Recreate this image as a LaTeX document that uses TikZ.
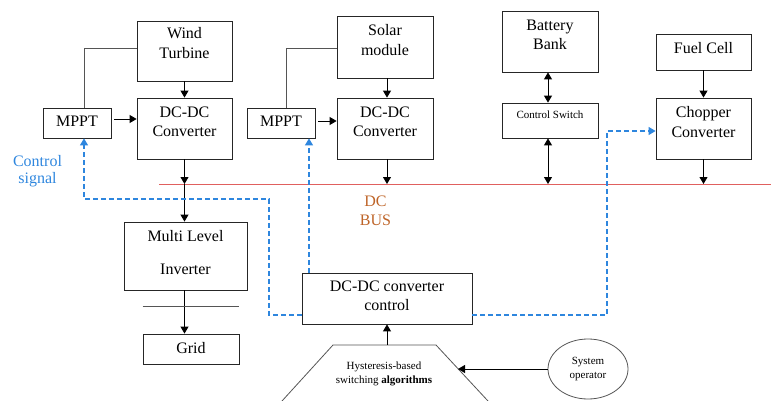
\documentclass[tikz,border=0pt]{standalone}
\usepackage{fontspec}
\setmainfont{Liberation Serif}
\newfontfamily\tnrfont{Liberation Serif}
\usetikzlibrary{arrows.meta,shapes.geometric}
\definecolor{sigblue}{HTML}{2E86DE}
\definecolor{busred}{HTML}{E0605E}
\definecolor{busbrown}{HTML}{BE6428}
\definecolor{lgray}{HTML}{555555}
\begin{document}
\begin{tikzpicture}[x=1pt,y=-1pt,
  box/.style={draw=black!85, line width=0.8pt, rectangle, inner sep=0pt},
  txt/.style={align=center, font=\tnrfont\fontsize{16}{20}\selectfont, inner sep=0pt},
  smalltxt/.style={align=center, font=\tnrfont\fontsize{11}{14}\selectfont, inner sep=0pt},
  arr/.style={-{Triangle[length=7pt,width=8pt]}, line width=0.9pt, draw=black},
  darr/.style={{Triangle[length=7pt,width=8pt]}-{Triangle[length=7pt,width=8pt]}, line width=0.9pt, draw=black},
  gline/.style={draw=lgray, line width=0.8pt},
  sig/.style={draw=sigblue, dash pattern=on 5pt off 3pt, line width=1.1pt},
  sigarr/.style={sig, -{Triangle[length=7pt,width=8pt]}, sigblue}
]
\useasboundingbox (0,0) rectangle (771,401);

% ---- boxes ----
\node[box, minimum width=95pt, minimum height=60pt] (wt) at (184.5,51) {};
\node[txt] (wtT) at (184.5,43) {Wind\\Turbine};
\node[box, minimum width=95pt, minimum height=61pt] (wdc) at (184.5,128.5) {};
\node[txt] (wdcT) at (184.5,122) {DC-DC\\[-1pt]Converter};
\node[box, minimum width=68pt, minimum height=30pt] (mppt1) at (77,123) {};
\node[txt] (mppt1T) at (77,121.5) {MPPT};

\node[box, minimum width=96pt, minimum height=62pt] (sm) at (385,47) {};
\node[txt] (smT) at (385,40) {Solar\\module};
\node[box, minimum width=96pt, minimum height=61pt] (sdc) at (385,128.5) {};
\node[txt] (sdcT) at (385,122) {DC-DC\\[-1pt]Converter};
\node[box, minimum width=68pt, minimum height=30pt] (mppt2) at (281,123) {};
\node[txt] (mppt2T) at (281,121.5) {MPPT};

\node[box, minimum width=96pt, minimum height=61pt] (bb) at (550,41.5) {};
\node[txt] (bbT) at (550,35) {Battery\\[-1pt]Bank};
\node[box, minimum width=96pt, minimum height=35pt] (cs) at (550,120.5) {};
\node[smalltxt] (csT) at (550,114.5) {Control Switch};

\node[box, minimum width=95pt, minimum height=36pt] (fc) at (703.5,52) {};
\node[txt] (fcT) at (703.5,48.5) {Fuel Cell};
\node[box, minimum width=95pt, minimum height=61pt] (ch) at (703.5,128.5) {};
\node[txt] (chT) at (703.5,122) {Chopper\\Converter};

\node[box, minimum width=123pt, minimum height=68pt] (mli) at (185.5,256) {};
\node[txt] (mliT) at (185.5,253) {Multi Level\\[13pt]Inverter};
\node[box, minimum width=96pt, minimum height=30pt] (grid) at (191,349) {};
\node[txt] (gridT) at (191,348.5) {Grid};

\node[box, minimum width=170pt, minimum height=51pt] (dcc) at (387,298.5) {};
\node[txt] (dccT) at (387,296) {DC-DC converter\\[-1pt]control};

% ---- texts ----
\node[txt, text=sigblue] (cst) at (37.5,171.5) {Control\\[-3pt]signal};
\node[txt, text=busbrown] (busT) at (375.5,211) {DC\\[-1pt]BUS};

% ---- DC bus ----
\coordinate (busL) at (159,184);
\coordinate (busR) at (771,184);
\draw[draw=busred, line width=0.8pt] (busL) -- (busR);

% ---- trapezoid ----
\coordinate (trBL) at (282,401);
\coordinate (trTL) at (333,345);
\coordinate (trTR) at (436,345);
\coordinate (trBR) at (488,401);
\draw[gline] (trBL) -- (trTL) -- (trTR) -- (trBR);
\node[smalltxt] (hy) at (384,373.5) {Hysteresis-based\\switching \textbf{algorithms}};
\coordinate (hyhit) at (458,369);

\node[draw=lgray, line width=0.8pt, ellipse, minimum width=80pt, minimum height=60pt, inner sep=0pt, smalltxt] (so) at (588,369) {System\\operator};

% ---- connectors ----
\draw[gline] ([xshift=7pt]mppt1.north) |- ([yshift=3pt]wt.west);
\draw[gline] ([xshift=5pt]mppt2.north) |- ([yshift=-1pt]sm.west);

\draw[arr] (wt.south) -- (wdc.north);
\draw[arr] ([xshift=3pt,yshift=4pt]mppt1.east) -- ([yshift=4pt]mppt1.east -| wdc.west);
\draw[arr] (wdc.south) -- (wdc.south |- busL);
\draw[arr] (wdc.south |- busL) -- (wdc.south |- mli.north);
\draw[arr] (mli.south -| wdc.south) -- (grid.north -| wdc.south);
\draw[gline] ([yshift=27pt]grid.north west) -- ([yshift=27pt]grid.north east);

\draw[arr] ([xshift=2pt]sm.south) -- ([xshift=2pt]sdc.north);
\draw[arr] ([xshift=3pt,yshift=2pt]mppt2.east) -- ([yshift=2pt]mppt2.east -| sdc.west);
\draw[arr] ([xshift=2pt]sdc.south) -- ([xshift=2pt]sdc.south |- busL);

\draw[darr] ([xshift=-2pt]bb.south) -- ([xshift=-2pt]cs.north);
\draw[darr] ([xshift=-2pt]cs.south) -- ([xshift=-2pt]cs.south |- busL);

\draw[arr] (fc.south) -- (ch.north);
\draw[arr] (ch.south) -- (ch.south |- busL);

\draw[arr] (dcc.south |- trTL) -- (dcc.south);
\draw[arr] (so.west) -- (hyhit);

% ---- control signals ----
\coordinate (b1) at (269,199);
\coordinate (b3) at (607,131);
\draw[sigarr] ([yshift=-16.5pt]dcc.west) -| (b1) -| ([xshift=7pt]mppt1.south);
\draw[sigarr] (dcc.north -| 309,0) -- ([xshift=28pt]mppt2.south);
\draw[sigarr] ([yshift=-16.5pt]dcc.east) -| (b3) -- (b3 -| ch.west);
\end{tikzpicture}
\end{document}
